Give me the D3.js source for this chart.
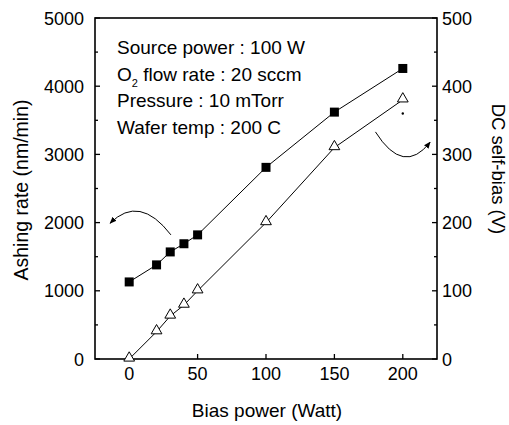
<!DOCTYPE html>
<html>
<head>
<meta charset="utf-8">
<script src="https://cdn.jsdelivr.net/npm/d3@7"></script>
<style>
  body { margin: 0; background: #fff; }
  text { font-family: "Liberation Sans", Arial, sans-serif; fill: #000; }
</style>
</head>
<body>
<svg width="509" height="425"></svg>
<script>
  // data
  var biasPower = [0, 20, 30, 40, 50, 100, 150, 200];
  var ashingRate = [1130, 1380, 1570, 1690, 1820, 2810, 3620, 4260];
  var dcBias = [0, 40, 63, 79, 100, 200, 310, 380];
  var xTicks = [0, 50, 100, 150, 200];
  var leftTicks = [0, 1000, 2000, 3000, 4000, 5000];
  var rightTicks = [0, 100, 200, 300, 400, 500];
  var notes = ["Source power : 100 W", "flow rate : 20 sccm", "Pressure : 10 mTorr", "Wafer temp : 200 C"];

  var pL = 95, pR = 437, pT = 18, pB = 359;
  var svg = d3.select("svg");
  var x = d3.scaleLinear().domain([-25, 225]).range([pL, pR]);
  var yL = d3.scaleLinear().domain([0, 5000]).range([pB, pT]);
  var yR = d3.scaleLinear().domain([0, 500]).range([pB, pT]);

  // frame
  svg.append("rect").attr("x", pL).attr("y", pT).attr("width", pR - pL).attr("height", pB - pT)
    .attr("fill", "none").attr("stroke", "#000").attr("stroke-width", 1.6);

  // ticks (inward)
  var tk = svg.append("g").attr("stroke", "#000").attr("stroke-width", 1.3);
  xTicks.forEach(function(v) {
    tk.append("line").attr("x1", x(v)).attr("x2", x(v)).attr("y1", pB).attr("y2", pB - 5);
  });
  d3.range(0, 5001, 500).forEach(function(v) {
    var len = v % 1000 == 0 ? 5 : 3;
    tk.append("line").attr("x1", pL).attr("x2", pL + len).attr("y1", yL(v)).attr("y2", yL(v));
  });
  d3.range(0, 501, 50).forEach(function(v) {
    var len = v % 100 == 0 ? 5 : 3;
    tk.append("line").attr("x1", pR).attr("x2", pR - len).attr("y1", yR(v)).attr("y2", yR(v));
  });

  // tick labels
  xTicks.forEach(function(v) {
    svg.append("text").attr("x", x(v)).attr("y", 380).attr("text-anchor", "middle").style("font-size", "18px").text(v);
  });
  leftTicks.forEach(function(v) {
    svg.append("text").attr("x", 84).attr("y", yL(v) + 6.5).attr("text-anchor", "end").style("font-size", "18px").text(v);
  });
  rightTicks.forEach(function(v) {
    svg.append("text").attr("x", 442).attr("y", yR(v) + 6.5).style("font-size", "18px").text(v);
  });

  // axis titles
  svg.append("text").attr("x", 267).attr("y", 417).attr("text-anchor", "middle").style("font-size", "19px").text("Bias power (Watt)");
  svg.append("text").attr("transform", "translate(28,190) rotate(-90)").attr("text-anchor", "middle").style("font-size", "19.5px").text("Ashing rate (nm/min)");
  svg.append("text").attr("transform", "translate(492,169) rotate(90)").attr("text-anchor", "middle").style("font-size", "18.5px").text("DC self-bias (V)");

  // annotation text
  notes.forEach(function(t, i) {
    var tx = svg.append("text").attr("x", 117).attr("y", 54 + i * 26.7).style("font-size", "19px");
    if (i == 1) {
      tx.append("tspan").text("O");
      tx.append("tspan").attr("dy", 6).style("font-size", "11px").text("2");
      tx.append("tspan").attr("dy", -6).text(" " + t);
    } else {
      tx.text(t);
    }
  });

  // lines
  var lineL = d3.line().x(function(d, i) { return x(biasPower[i]); }).y(function(d) { return yL(d); });
  var lineR = d3.line().x(function(d, i) { return x(biasPower[i]); }).y(function(d) { return yR(d); });
  svg.append("path").attr("d", lineL(ashingRate)).attr("fill", "none").attr("stroke", "#000").attr("stroke-width", 1);
  svg.append("path").attr("d", lineR(dcBias)).attr("fill", "none").attr("stroke", "#000").attr("stroke-width", 1);

  // markers
  ashingRate.forEach(function(v, i) {
    svg.append("rect").attr("x", x(biasPower[i]) - 4.5).attr("y", yL(v) - 4.5).attr("width", 9).attr("height", 9).attr("fill", "#000");
  });
  var tri = d3.symbol().type(d3.symbolTriangle).size(50);
  dcBias.forEach(function(v, i) {
    svg.append("path").attr("d", tri()).attr("transform", "translate(" + x(biasPower[i]) + "," + (yR(v) - 1) + ")")
      .attr("fill", "#fff").attr("stroke", "#000").attr("stroke-width", 1);
  });
  svg.append("circle").attr("cx", x(200)).attr("cy", yR(360)).attr("r", 1.2).attr("fill", "#000");

  // curved arrows (quadratic arcs)
  var defs = svg.append("defs");
  defs.append("marker").attr("id", "ah").attr("viewBox", "0 0 10 10").attr("refX", 9).attr("refY", 5)
    .attr("markerWidth", 7).attr("markerHeight", 7).attr("orient", "auto")
    .append("path").attr("d", "M0,1 L10,5 L0,9 Z").attr("fill", "#000");
  var p1 = d3.path();
  p1.moveTo(x(30.5), yL(1820));
  p1.quadraticCurveTo(x(7.5), yL(2420), x(-14), yL(1990));
  svg.append("path").attr("d", p1.toString())
    .attr("fill", "none").attr("stroke", "#000").attr("stroke-width", 1).attr("marker-end", "url(#ah)");
  var p2 = d3.path();
  p2.moveTo(x(180), yR(333));
  p2.quadraticCurveTo(x(200.5), yR(268), x(220), yR(318));
  svg.append("path").attr("d", p2.toString())
    .attr("fill", "none").attr("stroke", "#000").attr("stroke-width", 1).attr("marker-end", "url(#ah)");
</script>
</body>
</html>
